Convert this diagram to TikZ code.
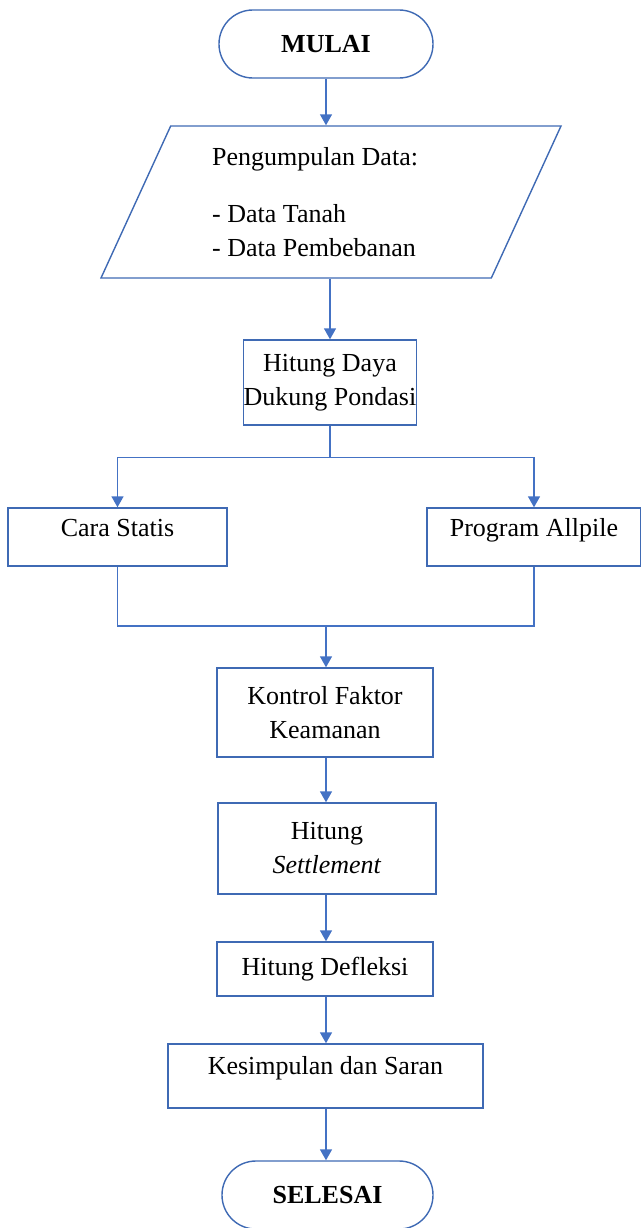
\documentclass[tikz,border=0pt]{standalone}
\usepackage{fontspec}
\setmainfont{Liberation Serif}
\usetikzlibrary{arrows.meta,shapes.geometric}
\definecolor{garisbiru}{HTML}{4472C4}
\definecolor{kotakbiru}{HTML}{3F6AB4}

\begin{document}
\begin{tikzpicture}[x=1pt, y=-1pt,
            every node/.style = {font=\fontsize{26}{34}\selectfont, align=center},
            terminal/.style = {draw=kotakbiru, line width=1.4pt, rounded corners=33.9pt,
                minimum height=68pt, font=\fontsize{26}{34}\selectfont\bfseries},
            proses/.style = {draw=kotakbiru, line width=1.4pt, inner sep=0pt},
            input/.style = {draw=kotakbiru, line width=1.4pt, trapezium,
                trapezium left angle=59, trapezium right angle=121,
                trapezium stretches body, minimum width=460pt, minimum height=152pt,
                align=left},
            panah/.style = {draw=garisbiru, line width=1.5pt, -{Triangle[width=12pt,length=11pt]}},
            garis/.style = {draw=garisbiru, line width=1.5pt}
        ]
        \useasboundingbox (0,0) rectangle (640,1228);
        \node[terminal, minimum width=214pt] (mulai) at (326,44) {MULAI};
        \node[input] (data) at (331,202) {Pengumpulan Data:\\[23pt]- Data Tanah\\- Data Pembebanan\hspace*{34pt}};
        \node[proses, minimum width=164pt, minimum height=85pt] (daya) at (330,382.5) {Hitung Daya\\Dukung Pondasi};
        \node[proses, minimum width=219pt, text height=28pt, text depth=30pt] (statis) at (117.5,537) {Cara Statis};
        \node[proses, minimum width=214pt, text height=28pt, text depth=30pt] (allpile) at (534,537) {Program Allpile};
        \node[proses, minimum width=216pt, minimum height=89pt] (kontrol) at (325,712.5) {Kontrol Faktor\\Keamanan};
        \node[proses, minimum width=218pt, minimum height=91pt] (settle) at (327,848.5) {Hitung\\\textit{Settlement}};
        \node[proses, minimum width=216pt, minimum height=54pt] (defleksi) at (325,969) {Hitung Defleksi};
        \node[proses, minimum width=315pt, text height=30pt, text depth=34pt] (saran) at (325.5,1076) {Kesimpulan dan Saran};
        \node[terminal, minimum width=211pt] (selesai) at (327.5,1195) {SELESAI};

        % alur utama
        \draw[panah] (mulai.south) -- (mulai.south |- data.north);
        \draw[panah] (daya.north |- data.south) -- (daya.north);
        \draw[panah] (daya.south) -- ++(0,32) -| (statis.north);
        \draw[panah] (daya.south) -- ++(0,32) -| (allpile.north);
        \coordinate (gabung) at (326,626);
        \draw[garis] (statis.south) |- (gabung) -| (allpile.south);
        \draw[panah] (gabung) -- (gabung |- kontrol.north);
        \draw[panah] (gabung |- kontrol.south) -- (gabung |- settle.north);
        \draw[panah] (gabung |- settle.south) -- (gabung |- defleksi.north);
        \draw[panah] (gabung |- defleksi.south) -- (gabung |- saran.north);
        \draw[panah] (gabung |- saran.south) -- (gabung |- selesai.north);
\end{tikzpicture}
\end{document}
